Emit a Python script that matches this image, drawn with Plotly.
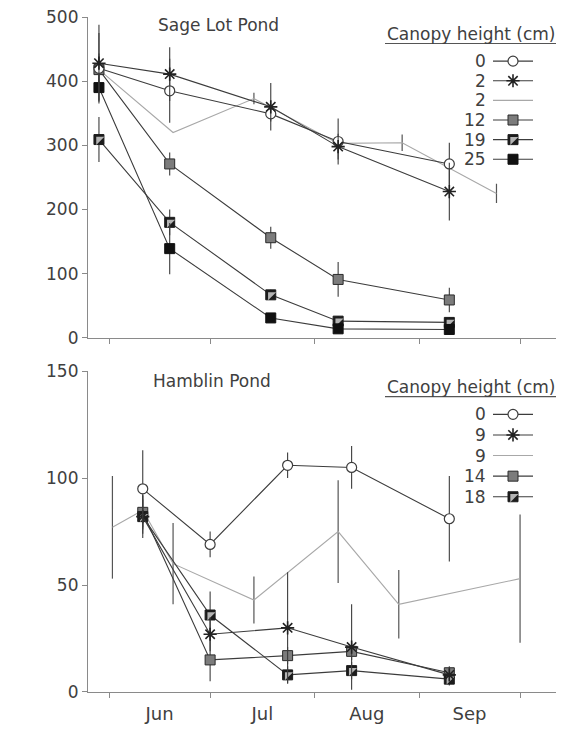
import plotly.graph_objects as go

# ---------------- Sage Lot Pond (shoots per m^2) ----------------
slp_dates = ["2001-05-29", "2001-06-19", "2001-07-19", "2001-08-08", "2001-09-10"]
slp_h0 = [420, 385, 349, 306, 271]
slp_h0_err = [55, 50, 12, 36, 33]
slp_h2 = [428, 411, 360, 298, 228]
slp_h2_err = [60, 42, 37, 20, 45]
slp_h12 = [418, 271, 156, 91, 59]
slp_h12_err = [25, 18, 17, 27, 19]
slp_h19 = [309, 180, 67, 26, 24]
slp_h19_err = [35, 20, 8, 8, 8]
slp_h25 = [390, 139, 31, 14, 13]
slp_h25_err = [20, 40, 6, 5, 5]

# second 2 cm plot, sampled on its own dates
slp_h2b_dates = ["2001-05-29", "2001-06-20", "2001-07-14", "2001-08-08", "2001-08-27", "2001-09-24"]
slp_h2b = [418, 320, 373, 303, 304, 225]
slp_h2b_err = [0, 0, 9, 0, 13, 15]

# ---------------- Hamblin Pond (shoots per m^2) ----------------
hp_dates = ["2001-06-11", "2001-07-01", "2001-07-24", "2001-08-12", "2001-09-10"]
hp_h0 = [95, 69, 106, 105, 81]
hp_h0_err = [18, 6, 6, 10, 20]
hp_h9 = [82, 27, 30, 21, 8]
hp_h9_err = [10, 8, 26, 20, 3]
hp_h14 = [84, 15, 17, 19, 9]
hp_h14_err = [8, 10, 4, 4, 3]
hp_h18 = [82, 36, 8, 10, 6]
hp_h18_err = [8, 11, 4, 4, 3]

hp_h9b_dates = ["2001-06-02", "2001-06-11", "2001-06-20", "2001-07-14", "2001-08-08", "2001-08-26", "2001-10-01"]
hp_h9b = [77, 85, 60, 43, 75, 41, 53]
hp_h9b_err = [24, 0, 19, 11, 24, 16, 30]

slp_labels = ["0", "2", "2", "12", "19", "25"]
hp_labels = ["0", "9", "9", "14", "18"]

FONT = "DejaVu Sans"
TXT = "#404040"
LINE = "#3c3c3c"
LIGHT = "#a8a8a8"
AXIS = "#8a8a8a"

# figure geometry (pixels)
W, H = 563, 731
ML, MR, MT, MB = 88, 7, 15, 28
PW, PH = W - ML - MR, H - MT - MB
top_y0, top_y1 = 342, 15
bot_y0, bot_y1 = 703, 376


def py2paper(py):
    return (H - MB - py) / PH


STYLES = {
    "h0": dict(symbol="circle", size=10, color="white", line=dict(color=LINE, width=1.2)),
    "h2": dict(symbol="asterisk-open", size=11, color="#222222", line=dict(width=1.6)),
    "hg": dict(symbol="square", size=10, color="#7c7c7c", line=dict(color="#2a2a2a", width=1)),
    "hh": dict(symbol="square", size=10, color="#1c1c1c", line=dict(color="#1c1c1c", width=1)),
    "hb": dict(symbol="square", size=10, color="#111111", line=dict(color="#111111", width=1)),
}
HALF = dict(symbol="triangle-nw", size=9, color="#b4b4b4", line=dict(width=0))

fig = go.Figure()


def series(x, y, err, style, xa, ya, half=False):
    fig.add_trace(go.Scatter(
        x=x, y=y, mode="lines+markers", xaxis=xa, yaxis=ya,
        line=dict(color=LINE, width=1.1), marker=STYLES[style],
        error_y=dict(type="data", array=err, visible=True, width=0, thickness=1.1, color=LINE),
        cliponaxis=False, showlegend=False, hoverinfo="x+y"))
    if half:
        fig.add_trace(go.Scatter(
            x=x, y=y, mode="markers", xaxis=xa, yaxis=ya, marker=HALF,
            cliponaxis=False, showlegend=False, hoverinfo="skip"))


def plain(x, y, err, xa, ya):
    fig.add_trace(go.Scatter(
        x=x, y=y, mode="lines", xaxis=xa, yaxis=ya,
        line=dict(color=LIGHT, width=1.1),
        error_y=dict(type="data", array=err, visible=True, width=0, thickness=1.2, color="#555555"),
        cliponaxis=False, showlegend=False, hoverinfo="x+y"))


# Sage Lot Pond
plain(slp_h2b_dates, slp_h2b, slp_h2b_err, "x", "y")
series(slp_dates, slp_h12, slp_h12_err, "hg", "x", "y")
series(slp_dates, slp_h19, slp_h19_err, "hh", "x", "y", half=True)
series(slp_dates, slp_h25, slp_h25_err, "hb", "x", "y")
series(slp_dates, slp_h0, slp_h0_err, "h0", "x", "y")
series(slp_dates, slp_h2, slp_h2_err, "h2", "x", "y")

# Hamblin Pond
plain(hp_h9b_dates, hp_h9b, hp_h9b_err, "x2", "y2")
series(hp_dates, hp_h14, hp_h14_err, "hg", "x2", "y2")
series(hp_dates, hp_h18, hp_h18_err, "hh", "x2", "y2", half=True)
series(hp_dates, hp_h9, hp_h9_err, "h2", "x2", "y2")
series(hp_dates, hp_h0, hp_h0_err, "h0", "x2", "y2")

# ---------------- legend blocks, drawn on a pixel-unit overlay axis ----------------
annotations = []
shapes = []


def legend_block(header_y, row_y0, row_step, labels, styles):
    annotations.append(dict(x=471, y=header_y, xref="x3", yref="y3", text="Canopy height (cm)",
                            showarrow=False, xanchor="center", yanchor="middle",
                            font=dict(family=FONT, size=17, color=TXT)))
    shapes.append(dict(type="line", xref="x3", yref="y3", x0=385, x1=557,
                       y0=header_y + 10, y1=header_y + 10, line=dict(color="#555555", width=1.2)))
    for i, (lab, st) in enumerate(zip(labels, styles)):
        yy = row_y0 + i * row_step
        annotations.append(dict(x=488, y=yy, xref="x3", yref="y3", text=lab, showarrow=False,
                                xanchor="right", yanchor="middle",
                                font=dict(family=FONT, size=17, color=TXT)))
        fig.add_trace(go.Scatter(x=[493, 533], y=[yy, yy], mode="lines", xaxis="x3", yaxis="y3",
                                 line=dict(color=LIGHT if st is None else LINE, width=1.1),
                                 showlegend=False, hoverinfo="skip", cliponaxis=False))
        if st is not None:
            fig.add_trace(go.Scatter(x=[513], y=[yy], mode="markers", xaxis="x3", yaxis="y3",
                                     marker=STYLES[st], showlegend=False, hoverinfo="skip",
                                     cliponaxis=False))
            if st == "hh":
                fig.add_trace(go.Scatter(x=[513], y=[yy], mode="markers", xaxis="x3", yaxis="y3",
                                         marker=HALF, showlegend=False, hoverinfo="skip",
                                         cliponaxis=False))


legend_block(32, 60, 20, slp_labels, ["h0", "h2", None, "hg", "hh", "hb"])
legend_block(392, 420, 21, hp_labels, ["h0", "h2", None, "hg", "hh"])

# panel titles
annotations.append(dict(x=218, y=23, xref="x3", yref="y3", text="Sage Lot Pond", showarrow=False,
                        xanchor="center", yanchor="middle", font=dict(family=FONT, size=17, color=TXT)))
annotations.append(dict(x=212, y=386, xref="x3", yref="y3", text="Hamblin Pond", showarrow=False,
                        xanchor="center", yanchor="middle", font=dict(family=FONT, size=17, color=TXT)))
# shared y title
annotations.append(dict(x=18, y=372, xref="x3", yref="y3", text="Eelgrass density (shoots/m<sup>2</sup>)",
                        showarrow=False, textangle=-90, xanchor="center", yanchor="middle",
                        font=dict(family=FONT, size=17, color=TXT)))

xrange_ = ["2001-05-25 18:00", "2001-10-11 16:00"]
xcommon = dict(type="date", range=xrange_, tick0="2001-06-01", dtick="M1", ticks="outside",
               ticklen=5, tickcolor=AXIS, showline=True, linecolor=AXIS, linewidth=1.2,
               showgrid=False, zeroline=False, domain=[0, 1])
ycommon = dict(ticks="outside", ticklen=5, tickcolor=AXIS, showline=True, linecolor=AXIS,
               linewidth=1.2, showgrid=False, zeroline=False,
               tickfont=dict(family=FONT, size=17, color=TXT))

fig.update_layout(
    width=W, height=H,
    margin=dict(l=ML, r=MR, t=MT, b=MB),
    paper_bgcolor="white", plot_bgcolor="rgba(0,0,0,0)",
    font=dict(family=FONT, size=17, color=TXT),
    showlegend=False,
    xaxis=dict(xcommon, anchor="y", showticklabels=False),
    yaxis=dict(ycommon, domain=[py2paper(top_y0), py2paper(top_y1)], range=[0, 500],
               tickvals=[0, 100, 200, 300, 400, 500], anchor="x"),
    xaxis2=dict(xcommon, anchor="y2", tickformat="%b", ticklabelmode="period",
                tickfont=dict(family=FONT, size=18, color=TXT)),
    yaxis2=dict(ycommon, domain=[0, py2paper(bot_y1)], range=[0, 150],
                tickvals=[0, 50, 100, 150], anchor="x2"),
    xaxis3=dict(domain=[0, 1], range=[ML, W - MR], visible=False, anchor="y3", fixedrange=True),
    yaxis3=dict(domain=[0, 1], range=[H - MB, MT], visible=False, anchor="x3", fixedrange=True),
    annotations=annotations,
    shapes=shapes,
)

fig.write_html("out.html")
